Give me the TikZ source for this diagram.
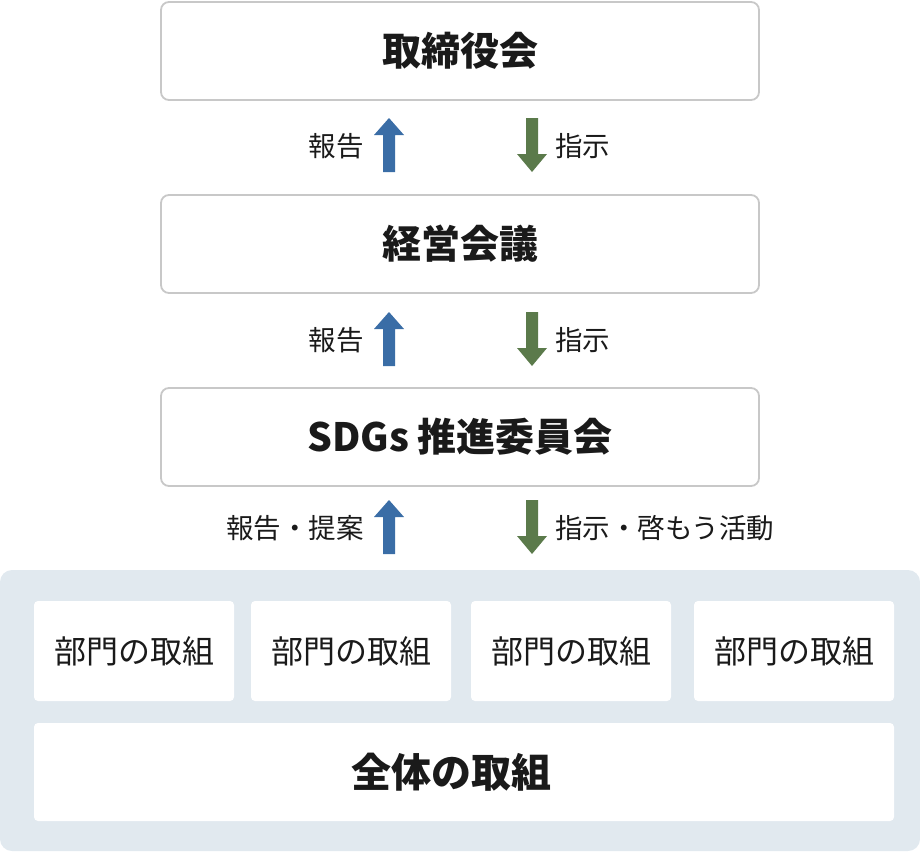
\documentclass[tikz,border=0pt]{standalone}
\usepackage{fontspec}
\setmainfont{Noto Sans CJK JP}
\newfontfamily\cjk{Noto Sans CJK JP}
\definecolor{boxline}{HTML}{C8C8C8}
\definecolor{panelbg}{HTML}{E1E9EF}
\definecolor{upblue}{HTML}{3A6DA6}
\definecolor{dngreen}{HTML}{5B7A4B}
\definecolor{ink}{HTML}{1A1A1A}
\begin{document}
\begin{tikzpicture}[x=1pt,y=-1pt,
    orgbox/.style={draw=boxline,line width=1.8pt,fill=white,rounded corners=8pt,
      minimum width=598pt,minimum height=98pt,text=ink,font=\cjk\bfseries\fontsize{39}{43}\selectfont},
    unitbox/.style={fill=white,rounded corners=4pt,minimum width=200pt,minimum height=100pt,
      text=ink,font=\cjk\fontsize{32}{36}\selectfont},
    flowlabel/.style={inner sep=0pt,text=ink,font=\cjk\fontsize{27.5}{31}\selectfont}]
  \useasboundingbox (0,0) rectangle (920,851);

  % the three meeting bodies
  \node[orgbox] (board) at (460,51) {取締役会};
  \node[orgbox] (mgmt) at (460,244) {経営会議};
  \node[orgbox] (sdgs) at (460,437) {SDGs 推進委員会};

  % panel with the activities
  \fill[panelbg,rounded corners=12pt] (0,570) rectangle (920,851);
  \foreach \x [count=\i] in {134,351,571,794}
    \node[unitbox] (unit\i) at (\x,651) {部門の取組};
  \node[unitbox,minimum width=860pt,minimum height=98pt] (whole) at (464,772) {};
  \node[text=ink,font=\cjk\bfseries\fontsize{40}{44}\selectfont] (wholetext)
    at ([xshift=-13pt]whole.center) {全体の取組};

  % block arrows and their labels
  \foreach \dy/\uptext/\dntext [count=\i] in {0/報告/指示,194/報告/指示,382/報告・提案/指示・啓もう活動} {
    \coordinate (up\i) at (389,118+\dy);
    \coordinate (dn\i) at (532,172+\dy);
    \fill[upblue] (up\i) -- ++(15,17) -- ++(-9,0) -- ++(0,37) -- ++(-12,0)
      -- ++(0,-37) -- ++(-9,0) -- cycle;
    \fill[dngreen] (dn\i) -- ++(15,-18) -- ++(-9,0) -- ++(0,-36) -- ++(-12,0)
      -- ++(0,36) -- ++(-9,0) -- cycle;
    \node[flowlabel,anchor=east] (rep\i) at (364,146+\dy) {\uptext};
    \node[flowlabel,anchor=west] (ins\i) at (555,146+\dy) {\dntext};
  }
\end{tikzpicture}
\end{document}
